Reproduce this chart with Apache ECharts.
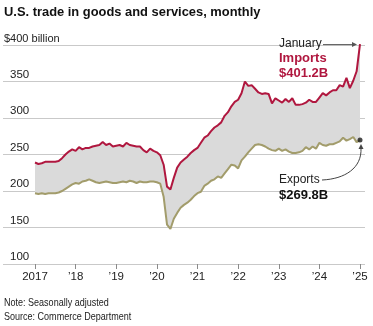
<!DOCTYPE html>
<html><head><meta charset="utf-8">
<script src="https://cdn.jsdelivr.net/npm/echarts@6/dist/echarts.min.js"></script>
<style>html,body{margin:0;padding:0;background:#fff}#c{width:373px;height:326px}</style>
</head><body><div id="c"></div>
<script>
// Monthly values, Jan 2017 .. Jan 2025 (billions of dollars)
const startYear = 2017;
const importsData = [
  239, 237, 238, 240, 240, 240, 240, 241, 245, 250, 254, 257,   // 2017
  255, 260, 257, 259, 259, 261, 262, 263, 267, 263, 265, 261,   // 2018
  262, 263, 261, 266, 263, 262, 261, 261, 256, 253, 258, 255,   // 2019
  253, 249, 236, 206, 202, 218, 232, 239, 243, 247, 252, 256,   // 2020
  259, 266, 273, 276, 282, 287, 290, 294, 303, 308, 316, 322,   // 2021
  325, 334, 350, 344, 345, 340, 335, 333, 334, 333, 320, 327,   // 2022
  324, 321, 326, 322, 327, 318, 318, 319, 321, 325, 322, 322,   // 2023
  328, 334, 331, 335, 338, 338, 345, 343, 355, 341, 351, 364,   // 2024
  401.2                                                          // 2025
];
const exportsData = [
  197, 196, 197, 196, 197, 197, 197, 198, 200, 203, 206, 209,   // 2017
  211, 210, 213, 214, 216, 214, 212, 211, 212, 213, 212, 211,   // 2018
  211, 212, 213, 212, 214, 213, 211, 213, 212, 212, 213, 213,   // 2019
  212, 210, 192, 154, 148, 162, 170, 177, 181, 184, 188, 193,   // 2020
  197, 199, 207, 210, 214, 216, 220, 218, 224, 230, 236, 235,   // 2021
  231, 242, 247, 253, 258, 263, 264, 263, 261, 258, 256, 255,   // 2022
  258, 255, 257, 254, 252, 252, 253, 255, 260, 257, 261, 258,   // 2023
  266, 263, 262, 264, 264, 266, 268, 273, 269, 271, 274, 267,   // 2024
  269.8                                                          // 2025
];
const yTickValues = [100, 150, 200, 250, 300, 350, 400];
const xTickYears = [2017, 2018, 2019, 2020, 2021, 2022, 2023, 2024, 2025];
const xTickLabels = ['2017', '\u201918', '\u201919', '\u201920', '\u201921', '\u201922', '\u201923', '\u201924', '\u201925'];
const titleText = 'U.S. trade in goods and services, monthly';
const noteLines = ['Note: Seasonally adjusted', 'Source: Commerce Department'];
const importsLabel = ['January', 'Imports', '$401.2B'];
const exportsLabel = ['Exports', '$269.8B'];

const RED = '#b0173f', OLIVE = '#a29c6b', FILL = '#dadada';
const SANS = '"Liberation Sans", Arial, sans-serif';

const xOf = i => startYear + i / 12;
const impPts = importsData.map((v, i) => [xOf(i), v]);
const expPts = exportsData.map((v, i) => [xOf(i), v]);
const last = importsData.length - 1;

const chart = echarts.init(document.getElementById('c'), null, {renderer: 'canvas'});
chart.setOption({
  animation: false,
  backgroundColor: '#fff',
  grid: {left: 3, right: 8, top: 45, bottom: 62, containLabel: false},
  xAxis: {
    type: 'value', min: 2016.2123, max: 2025.123,
    axisLine: {show: false},
    splitLine: {show: false},
    axisTick: {show: true, customValues: xTickYears, length: 5, lineStyle: {color: '#8a8a8a', width: 1}},
    axisLabel: {
      customValues: xTickYears, margin: 7,
      formatter: v => xTickLabels[xTickYears.indexOf(Math.round(v))] || '',
      fontFamily: SANS, fontSize: 11.5, color: '#222'
    }
  },
  yAxis: {
    type: 'value', min: 100, max: 400, interval: 50,
    axisLine: {show: false}, axisTick: {show: false},
    splitLine: {lineStyle: {color: '#c9c9c9', width: 1}},
    axisLabel: {
      inside: true, margin: 1, verticalAlign: 'bottom',
      formatter: v => v === 400 ? '{a|$400 billion}' : '{b|' + v + '}',
      rich: {
        a: {fontFamily: SANS, fontSize: 11, color: '#222', padding: [0, 0, 1, 0]},
        b: {fontFamily: SANS, fontSize: 11.5, color: '#222', padding: [0, 0, 1, 6]}
      }
    }
  },
  series: [
    {type: 'custom', silent: true, z: 1, data: [impPts[0]],
     renderItem: (params, api) => {
       const pts = impPts.map(p => api.coord(p)).concat(expPts.slice().reverse().map(p => api.coord(p)));
       return {type: 'polygon', shape: {points: pts}, style: {fill: FILL, stroke: null}};
     }},
    {type: 'line', data: impPts, symbol: 'none', lineStyle: {color: RED, width: 2}, z: 3},
    {type: 'line', data: expPts, symbol: 'none', lineStyle: {color: OLIVE, width: 2}, z: 3},
    {type: 'scatter', data: [impPts[last], expPts[last]], symbolSize: 5,
     itemStyle: {color: '#1a1a1a'}, z: 5}
  ]
});

const pI = chart.convertToPixel({xAxisIndex: 0, yAxisIndex: 0}, impPts[last]);
const pE = chart.convertToPixel({xAxisIndex: 0, yAxisIndex: 0}, expPts[last]);
const aY = pI[1] + 0.5;
chart.setOption({
  graphic: [
    {type: 'text', x: 4, y: 12, style: {text: titleText, font: 'bold 13.5px ' + SANS, fill: '#111', verticalAlign: 'middle'}, scaleX: 0.955},
    {type: 'text', x: 4, y: 303, scaleX: 0.82, style: {text: noteLines[0], font: '11px ' + SANS, fill: '#222', verticalAlign: 'middle'}},
    {type: 'text', x: 4, y: 317, scaleX: 0.82, style: {text: noteLines[1], font: '11px ' + SANS, fill: '#222', verticalAlign: 'middle'}},
    {type: 'text', x: 279, y: 44, style: {text: importsLabel[0], font: '12px ' + SANS, fill: '#222', verticalAlign: 'middle'}},
    {type: 'text', x: 279, y: 58, style: {text: importsLabel[1], font: 'bold 13px ' + SANS, fill: RED, verticalAlign: 'middle'}},
    {type: 'text', x: 279, y: 73, style: {text: importsLabel[2], font: 'bold 13px ' + SANS, fill: RED, verticalAlign: 'middle'}},
    {type: 'text', x: 279, y: 180, style: {text: exportsLabel[0], font: '12px ' + SANS, fill: '#222', verticalAlign: 'middle'}},
    {type: 'text', x: 279, y: 195, style: {text: exportsLabel[1], font: 'bold 13px ' + SANS, fill: '#111', verticalAlign: 'middle'}},
    {type: 'line', shape: {x1: 323, y1: aY, x2: pI[0] - 6, y2: aY}, style: {stroke: '#555', lineWidth: 1}},
    {type: 'polygon', shape: {points: [[pI[0] - 3, aY], [pI[0] - 8, aY - 2.5], [pI[0] - 8, aY + 2.5]]}, style: {fill: '#555'}},
    {type: 'bezierCurve', shape: {x1: 322, y1: 180, cpx1: 345, cpy1: 179, cpx2: pE[0] + 2, cpy2: 168, x2: pE[0] + 1, y2: pE[1] + 8}, style: {stroke: '#444', lineWidth: 1, fill: null}},
    {type: 'polygon', shape: {points: [[pE[0] + 1, pE[1] + 4], [pE[0] - 1.5, pE[1] + 9], [pE[0] + 3.5, pE[1] + 9]]}, style: {fill: '#444'}}
  ]
});
</script>
</body></html>
